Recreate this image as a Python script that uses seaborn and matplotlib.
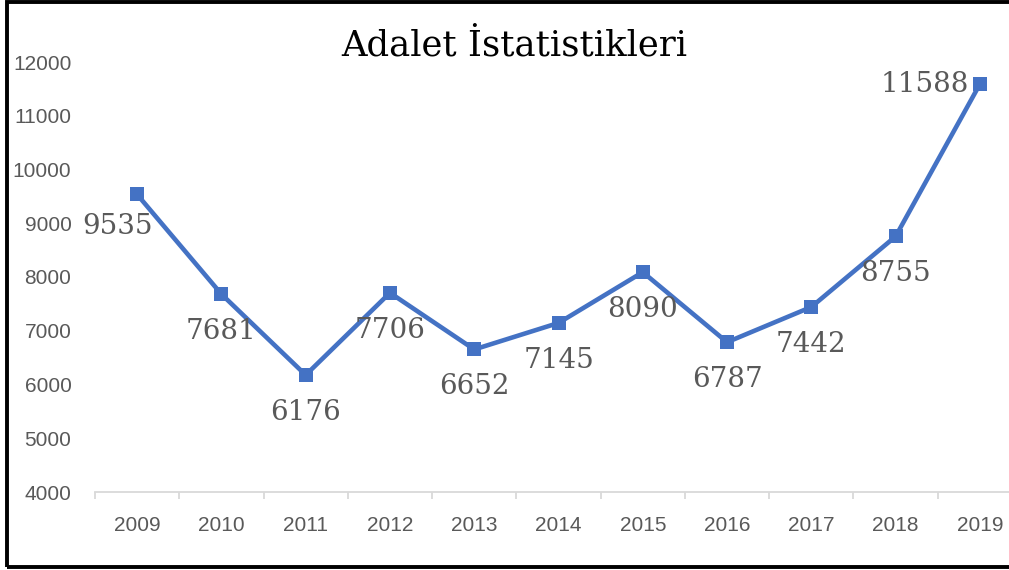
import numpy as np
import pandas as pd
import seaborn as sns
import matplotlib.pyplot as plt
from matplotlib.patches import Rectangle
from matplotlib.ticker import FixedLocator

# Values
years = [2009, 2010, 2011, 2012, 2013, 2014, 2015, 2016, 2017, 2018, 2019]
counts = [9535, 7681, 6176, 7706, 6652, 7145, 8090, 6787, 7442, 8755, 11588]
title = "Adalet İstatistikleri"

df = pd.DataFrame({"Yıl": years, "Sayı": counts})

sns.set_style("white")
plt.rcParams['font.family'] = ['Liberation Sans', 'DejaVu Sans']

fig = plt.figure(figsize=(10.09, 5.70), dpi=100)
ax = fig.add_axes([95 / 1009, 78 / 570, 927 / 1009, 430 / 570])

blue = "#4472C4"
sns.lineplot(data=df, x="Yıl", y="Sayı", ax=ax, color=blue, linewidth=3.3,
             marker="s", markersize=9.5, markeredgewidth=0, clip_on=False)

# Data labels (mostly below the point, last one on the left)
for yr, val in zip(years, counts):
    if yr == 2019:
        off, ha, va = (-8, 0), "right", "center"
    elif yr == 2009:
        off, ha, va = (-14, -23), "center", "center"
    else:
        off, ha, va = (0, -27), "center", "center"
    ax.annotate(f"{val}", (yr, val), xytext=off, textcoords="offset points",
                ha=ha, va=va, fontsize=20, color="#595959",
                family=["DejaVu Serif"])

ax.set_xlim(2008.5, 2019.5)
ax.set_ylim(4000, 12000)
ax.set_yticks(range(4000, 12001, 1000))
ax.set_xticks(years)
ax.xaxis.set_minor_locator(FixedLocator([y - 0.5 for y in years] + [2019.5]))
ax.tick_params(axis="x", which="major", bottom=True, length=0, pad=17,
               labelsize=15, labelcolor="#595959")
ax.tick_params(axis="x", which="minor", bottom=True, length=5, width=1.3,
               color="#D9D9D9", direction="out")
ax.tick_params(axis="y", length=0, pad=17, labelsize=15, labelcolor="#595959")
ax.set_xlabel("")
ax.set_ylabel("")

for side in ["left", "right", "top"]:
    ax.spines[side].set_visible(False)
ax.spines["bottom"].set_color("#D9D9D9")
ax.spines["bottom"].set_linewidth(1.3)

fig.text(514 / 1009, 1 - 45 / 570, title, ha="center", va="center",
         fontsize=25.5, color="black", family=["DejaVu Serif"])

# Black frame (right side runs off the image)
fig.patches.append(Rectangle((7 / 1009, 3 / 570), 1.1, 565 / 570, transform=fig.transFigure,
                             fill=False, edgecolor="black", linewidth=2.8))

fig.savefig("out.png", dpi=100)
